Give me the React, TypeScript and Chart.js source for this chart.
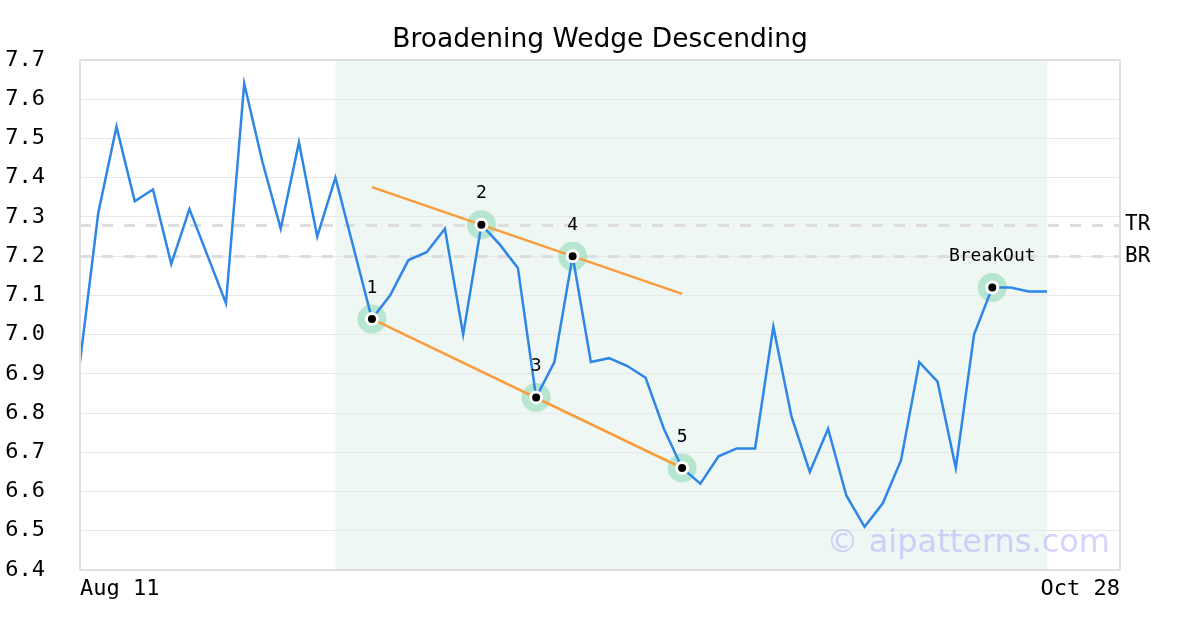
import React, { useEffect, useRef } from "react";
import { Chart, registerables } from "chart.js";

Chart.register(...registerables);

const chartTitle = "Broadening Wedge Descending";
const xTickLabels = ["Aug 11", "Oct 28"];
const xTickIndex = [0, 57];
const yMin = 6.4;
const yMax = 7.7;

const prices = [
  6.93, 7.31, 7.53, 7.34, 7.37, 7.18, 7.32, 7.2, 7.08, 7.64,
  7.44, 7.27, 7.49, 7.25, 7.4, 7.22, 7.04, 7.1, 7.19, 7.21,
  7.27, 7.0, 7.28, 7.23, 7.17, 6.84, 6.93, 7.2, 6.93, 6.94,
  6.92, 6.89, 6.76, 6.66, 6.62, 6.69, 6.71, 6.71, 7.02, 6.79,
  6.65, 6.76, 6.59, 6.51, 6.57, 6.68, 6.93, 6.88, 6.66, 7.0,
  7.12, 7.12, 7.11, 7.11,
];

const patternIndex = [16, 22, 25, 27, 33, 50];
const patternLabels = ["1", "2", "3", "4", "5", "BreakOut"];

const upperTrend = [
  { x: 16, y: 7.376 },
  { x: 33, y: 7.104 },
];
const lowerTrend = [
  { x: 16, y: 7.04 },
  { x: 33, y: 6.66 },
];

const levelNames = ["TR", "BR"];
const levelValues = [7.28, 7.2];

const shadeRange = [14, 53];
const watermark = "© aipatterns.com";

const decorPlugin = {
  id: "decor",
  beforeDraw(chart: any) {
    const { ctx, chartArea, scales } = chart;
    const x = scales.x;
    ctx.save();
    ctx.fillStyle = "#eef7f3";
    const x0 = x.getPixelForValue(shadeRange[0]);
    const x1 = x.getPixelForValue(shadeRange[1]);
    ctx.fillRect(x0, chartArea.top, x1 - x0, chartArea.bottom - chartArea.top);
    ctx.restore();
  },
  beforeDatasetsDraw(chart: any) {
    const { ctx, chartArea, scales } = chart;
    const y = scales.y;
    ctx.save();
    ctx.strokeStyle = "#dddddd";
    ctx.lineWidth = 3;
    ctx.setLineDash([11, 11]);
    levelValues.forEach((v) => {
      const py = Math.round(y.getPixelForValue(v)) + 0.5;
      ctx.beginPath();
      ctx.moveTo(chartArea.left, py);
      ctx.lineTo(chartArea.right, py);
      ctx.stroke();
    });
    ctx.restore();
  },
  afterDraw(chart: any) {
    const { ctx, chartArea, scales } = chart;
    const x = scales.x;
    const y = scales.y;
    ctx.save();
    // title
    ctx.fillStyle = "#000";
    ctx.font = "26.5px 'DejaVu Sans'";
    ctx.textAlign = "center";
    ctx.textBaseline = "middle";
    ctx.fillText(chartTitle, chart.width / 2, 40);
    // border
    ctx.strokeStyle = "#dedede";
    ctx.lineWidth = 2;
    ctx.strokeRect(chartArea.left, chartArea.top, chartArea.right - chartArea.left, chartArea.bottom - chartArea.top);
    // level labels
    ctx.fillStyle = "#000";
    ctx.font = "21px 'DejaVu Sans Mono'";
    ctx.textAlign = "left";
    ctx.textBaseline = "middle";
    levelValues.forEach((v, i) => {
      ctx.fillText(levelNames[i], chartArea.right + 5, y.getPixelForValue(v));
    });
    // point labels
    ctx.font = "18px 'DejaVu Sans Mono'";
    ctx.textAlign = "center";
    patternIndex.forEach((idx, i) => {
      ctx.fillText(patternLabels[i], x.getPixelForValue(idx), y.getPixelForValue(prices[idx]) - 31);
    });
    // watermark
    ctx.font = "32px 'DejaVu Sans'";
    ctx.fillStyle = "rgba(160,160,255,0.45)";
    ctx.textAlign = "right";
    ctx.textBaseline = "middle";
    ctx.fillText(watermark, chartArea.right - 10, chartArea.bottom - 26);
    ctx.restore();
  },
};

export default function App() {
  const ref = useRef<HTMLCanvasElement | null>(null);

  useEffect(() => {
    if (!ref.current) return;
    const markers = patternIndex.map((i) => ({ x: i, y: prices[i] }));
    const chart = new Chart(ref.current, {
      type: "line",
      data: {
        datasets: [
          {
            data: markers,
            showLine: false,
            pointRadius: 5.5,
            pointBackgroundColor: "#000",
            pointBorderColor: "#fff",
            pointBorderWidth: 3,
            order: 1,
          },
          {
            data: prices.map((v, i) => ({ x: i, y: v })),
            borderColor: "#2e86e6",
            borderWidth: 2.5,
            pointRadius: 0,
            tension: 0,
            order: 3,
          },
          {
            data: upperTrend,
            borderColor: "#fa9c3c",
            borderWidth: 2.5,
            pointRadius: 0,
            order: 4,
          },
          {
            data: lowerTrend,
            borderColor: "#fa9c3c",
            borderWidth: 2.5,
            pointRadius: 0,
            order: 4,
          },
          {
            data: markers,
            showLine: false,
            pointRadius: 14.5,
            pointBackgroundColor: "rgba(160,222,192,0.7)",
            pointBorderWidth: 0,
            order: 10,
          },
        ],
      },
      options: {
        responsive: false,
        animation: false,
        layout: { padding: { left: 0, right: 80, top: 60, bottom: 0 } },
        plugins: {
          legend: { display: false },
          tooltip: { enabled: false },
          title: { display: false },
        },
        scales: {
          x: {
            type: "linear",
            min: xTickIndex[0],
            max: xTickIndex[1],
            grid: { display: false, drawTicks: false },
            border: { display: false },
            afterBuildTicks: (axis: any) => {
              axis.ticks = xTickIndex.map((v) => ({ value: v }));
            },
            afterFit: (axis: any) => {
              axis.height = 60;
            },
            ticks: {
              align: "inner",
              padding: 6,
              color: "#000",
              maxRotation: 0,
              font: { family: "'DejaVu Sans Mono'", size: 22 },
              callback: (v: any) => {
                const k = xTickIndex.indexOf(Number(v));
                return k >= 0 ? xTickLabels[k] : "";
              },
            },
          },
          y: {
            min: yMin,
            max: yMax,
            grid: { color: "#e8e8e8", lineWidth: 1, drawTicks: false },
            border: { display: false },
            afterFit: (axis: any) => {
              axis.width = 80;
            },
            ticks: {
              stepSize: 0.1,
              padding: 35,
              color: "#000",
              font: { family: "'DejaVu Sans Mono'", size: 22 },
              callback: (v: any) => Number(v).toFixed(1),
            },
          },
        },
      },
      plugins: [decorPlugin],
    } as any);
    return () => chart.destroy();
  }, []);

  return (
    <div style={{ position: "fixed", left: 0, top: 0, width: 1200, height: 630, background: "#fff" }}>
      <canvas ref={ref} width={1200} height={630} style={{ display: "block" }} />
    </div>
  );
}
